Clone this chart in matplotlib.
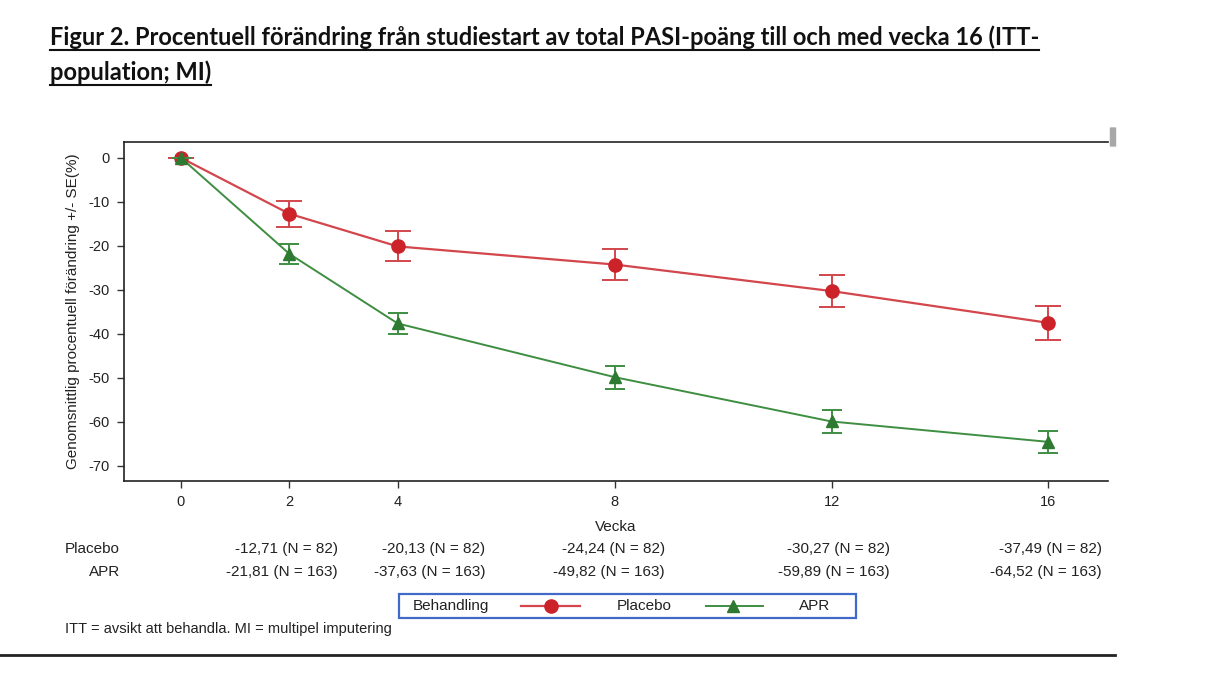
import matplotlib.pyplot as plt
from matplotlib.lines import Line2D
from matplotlib.patches import Rectangle, FancyBboxPatch
import matplotlib.transforms as mtransforms

# data
weeks = [0, 2, 4, 8, 12, 16]
placebo_mean = [0, -12.71, -20.13, -24.24, -30.27, -37.49]
placebo_se = [0, 2.9, 3.4, 3.5, 3.6, 3.9]
apr_mean = [0, -21.81, -37.63, -49.82, -59.89, -64.52]
apr_se = [0, 2.2, 2.4, 2.6, 2.6, 2.5]
placebo_n = [82, 82, 82, 82, 82]
apr_n = [163, 163, 163, 163, 163]
table_weeks = [2, 4, 8, 12, 16]
yticks = [0, -10, -20, -30, -40, -50, -60, -70]

red_line = '#D2464C'
red_mark = '#CC2229'
green_line = '#3E8E41'
green_mark = '#2E7A32'
txt = '#222222'
font = ['Liberation Sans', 'DejaVu Sans']

plt.rcParams['font.family'] = font
plt.rcParams['axes.unicode_minus'] = False

fig = plt.figure(figsize=(12.14, 6.74), dpi=100)
ax = fig.add_axes([0.1021, 0.2864, 0.8106, 0.5030])

ax.errorbar(weeks, placebo_mean, yerr=placebo_se, color=red_line, lw=1.6,
            marker='o', ms=9.5, mfc=red_mark, mec=red_mark,
            ecolor=red_line, elinewidth=1.4, capsize=9.5, capthick=1.4, zorder=3)
ax.errorbar(weeks, apr_mean, yerr=apr_se, color=green_line, lw=1.4,
            marker='^', ms=8, mfc=green_mark, mec=green_mark,
            ecolor=green_line, elinewidth=1.4, capsize=7.5, capthick=1.4, zorder=4)

ax.set_xlim(-1.05, 17.1)
ax.set_ylim(-73.4, 3.6)
ax.set_xticks(weeks)
ax.set_yticks(yticks)
ax.tick_params(axis='both', direction='out', length=5, width=1, color='#333333',
               labelsize=10.5, labelcolor=txt, pad=5)
ax.spines['right'].set_visible(False)
for s in ['top', 'left', 'bottom']:
    ax.spines[s].set_color('#222222')
    ax.spines[s].set_linewidth(1.2)

ax.set_ylabel('Genomsnittlig procentuell förändring +/- SE(%)', fontsize=11,
              color=txt, labelpad=6)
ax.set_xlabel('Vecka', fontsize=11, color=txt, labelpad=8)

# N table under the axis
tr = mtransforms.blended_transform_factory(ax.transData, fig.transFigure)
right_edges = [2.90, 5.61, 8.93, 13.08, 16.99]
for xr, w, pm, pn, am, an in zip(right_edges, table_weeks, placebo_mean[1:], placebo_n,
                                 apr_mean[1:], apr_n):
    ax.text(xr, 1 - 549 / 674, f'{pm:.2f} (N = {pn})'.replace('.', ','), transform=tr,
            ha='right', va='center', fontsize=11, color=txt)
    ax.text(xr, 1 - 572 / 674, f'{am:.2f} (N = {an})'.replace('.', ','), transform=tr,
            ha='right', va='center', fontsize=11, color=txt)
fig.text(120 / 1214, 1 - 549 / 674, 'Placebo', ha='right', va='center', fontsize=11, color=txt)
fig.text(120 / 1214, 1 - 572 / 674, 'APR', ha='right', va='center', fontsize=11, color=txt)

# legend box
fig.add_artist(Rectangle((399 / 1214, 1 - 618 / 674), 457 / 1214, 24 / 674,
                         transform=fig.transFigure, fill=False, ec='#4169C8', lw=1.6))
ly = 1 - 606 / 674
fig.text(413 / 1214, ly, 'Behandling', ha='left', va='center', fontsize=11, color=txt)
fig.add_artist(Line2D([521 / 1214, 580 / 1214], [ly, ly], transform=fig.transFigure,
                      color=red_line, lw=1.6))
fig.add_artist(Line2D([551 / 1214], [ly], transform=fig.transFigure, marker='o', ms=9.5,
                      color=red_mark))
fig.text(644 / 1214, ly, 'Placebo', ha='center', va='center', fontsize=11, color=txt)
fig.add_artist(Line2D([706 / 1214, 763 / 1214], [ly, ly], transform=fig.transFigure,
                      color=green_line, lw=1.4))
fig.add_artist(Line2D([733 / 1214], [ly], transform=fig.transFigure, marker='^', ms=8,
                      color=green_mark))
fig.text(815 / 1214, ly, 'APR', ha='center', va='center', fontsize=11, color=txt)

fig.text(65 / 1214, 1 - 629 / 674, 'ITT = avsikt att behandla. MI = multipel imputering',
         ha='left', va='center', fontsize=10.5, color=txt)

# bottom rule
fig.add_artist(Line2D([0, 1115 / 1214], [1 - 655 / 674] * 2, transform=fig.transFigure,
                      color='#222222', lw=2))
# little gray tab at the top right
fig.add_artist(FancyBboxPatch((1111 / 1214, 1 - 146 / 674), 4 / 1214, 18 / 674,
                              boxstyle='round,pad=0.001', transform=fig.transFigure,
                              fc='#a8a8a8', ec='none'))

# title
title_font = ['Lato', 'Open Sans', 'DejaVu Sans']
t1 = fig.text(50 / 1214, 1 - 37 / 674,
              'Figur 2. Procentuell förändring från studiestart av total PASI-poäng till och med vecka 16 (ITT-',
              ha='left', va='center', fontsize=17, fontweight='bold', family=title_font,
              color='#111111')
t2 = fig.text(50 / 1214, 1 - 72 / 674, 'population; MI)', ha='left', va='center',
              fontsize=17, fontweight='bold', family=title_font, color='#111111')

# underline the title lines
fig.canvas.draw()
r = fig.canvas.get_renderer()
for t, yy in [(t1, 50), (t2, 85)]:
    bb = t.get_window_extent(renderer=r)
    fig.add_artist(Line2D([bb.x0 / 1214, bb.x1 / 1214], [1 - yy / 674] * 2,
                          transform=fig.transFigure, color='#111111', lw=1.5))

fig.savefig('out.png', dpi=100)
